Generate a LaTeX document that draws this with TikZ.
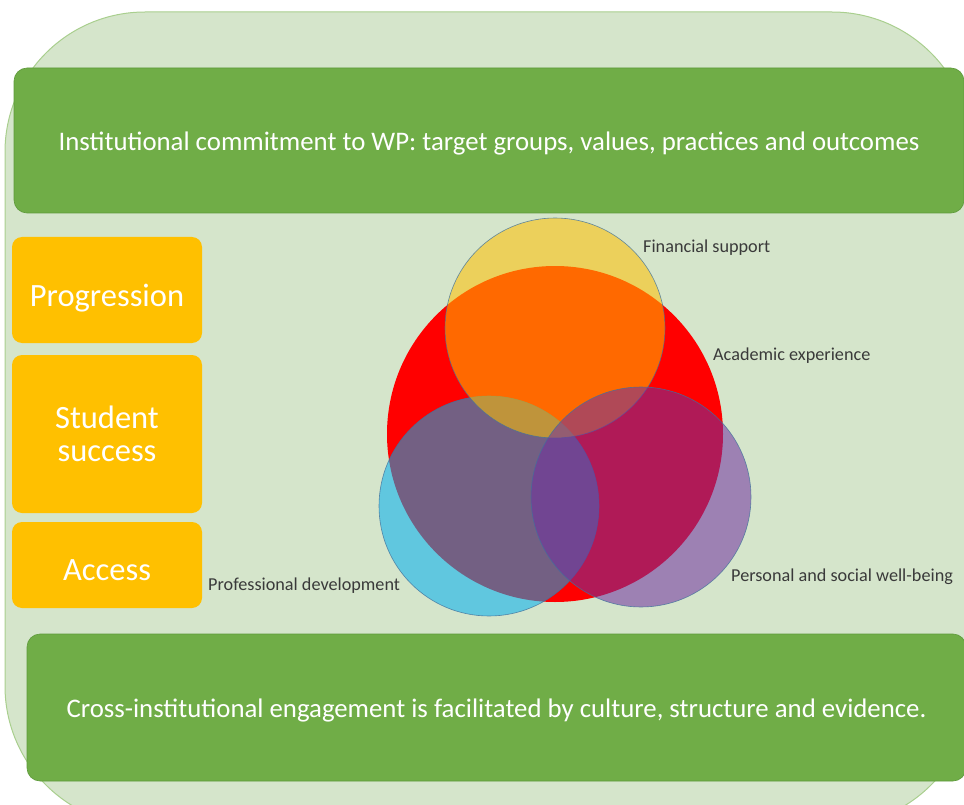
\documentclass[tikz,border=0pt]{standalone}
\usepackage{fontspec}
\setmainfont{Carlito}
\definecolor{bgfill}{HTML}{D5E5CB}
\definecolor{bgline}{HTML}{A9CF8E}
\definecolor{bargreen}{HTML}{70AD47}
\definecolor{barline}{HTML}{5E9A3B}
\definecolor{gold}{HTML}{FFC000}
\definecolor{acred}{HTML}{FF0000}
\definecolor{skyblue}{HTML}{00B0F0}
\definecolor{plum}{HTML}{7030A0}
\definecolor{ringline}{HTML}{41719C}
\definecolor{labelgrey}{HTML}{3A3A3A}
\newcommand{\lowerby}[2]{\raisebox{-#1}[\height][\depth]{#2}}
\tikzset{
  bar/.style={rectangle, rounded corners=13pt, fill=bargreen, draw=barline, line width=0.6pt,
    text=white, font=\fontsize{26.8}{30}\selectfont, inner sep=0pt},
  goldbox/.style={rectangle, rounded corners=10pt, fill=gold, text=white,
    minimum width=190pt, inner sep=0pt, align=center, font=\fontsize{32.5}{32.5}\selectfont},
  ring/.style={circle, inner sep=0pt, draw=ringline, draw opacity=0.8, line width=0.6pt, fill opacity=0.55},
  vlabel/.style={anchor=west, inner sep=0pt, text=labelgrey, font=\fontsize{18.2}{21}\selectfont}
}
\begin{document}
\begin{tikzpicture}[x=1pt,y=-1pt]
\useasboundingbox (0,0) rectangle (964,805);
\begin{scope}
\clip (0,0) rectangle (964,805);
\path[draw=bgline, fill=bgfill, line width=1pt, rounded corners=140pt] (5,12) rectangle (972,826);
\end{scope}
% bars
\node[bar, minimum width=950pt, minimum height=145pt] (top) at (489,140.5)
  {\lowerby{3pt}{Institutional commitment to WP: target groups, values, practices and outcomes}};
\node[bar, minimum width=939pt, minimum height=147pt] (bottom) at (496.5,707.5)
  {\lowerby{3pt}{Cross-institutional engagement is facilitated by culture, structure and evidence.}};
% gold boxes
\node[goldbox, minimum height=106pt] (prog) at (107,290) {\lowerby{8pt}{Progression}};
\node[goldbox, minimum height=158pt] (succ) at (107,434) {Student\\success};
\node[goldbox, minimum height=86pt] (acc) at (107,565) {\lowerby{5pt}{Access}};
% venn
\node[circle, inner sep=0pt, fill=acred, minimum size=336pt] (acad) at (555,434) {};
\node[ring, fill=skyblue, minimum size=220pt] (prof) at (489,506) {};
\node[ring, fill=gold, minimum size=220pt] (fin) at (555,328) {};
\node[ring, fill=plum, minimum size=220pt] (pers) at (641,497) {};
% labels
\node[vlabel] (finl) at (643,248) {Financial support};
\node[vlabel] (acadl) at (713,356) {Academic experience};
\node[vlabel] (persl) at (731,577) {Personal and social well-being};
\node[vlabel] (profl) at (208,586) {Professional development};
\end{tikzpicture}
\end{document}
